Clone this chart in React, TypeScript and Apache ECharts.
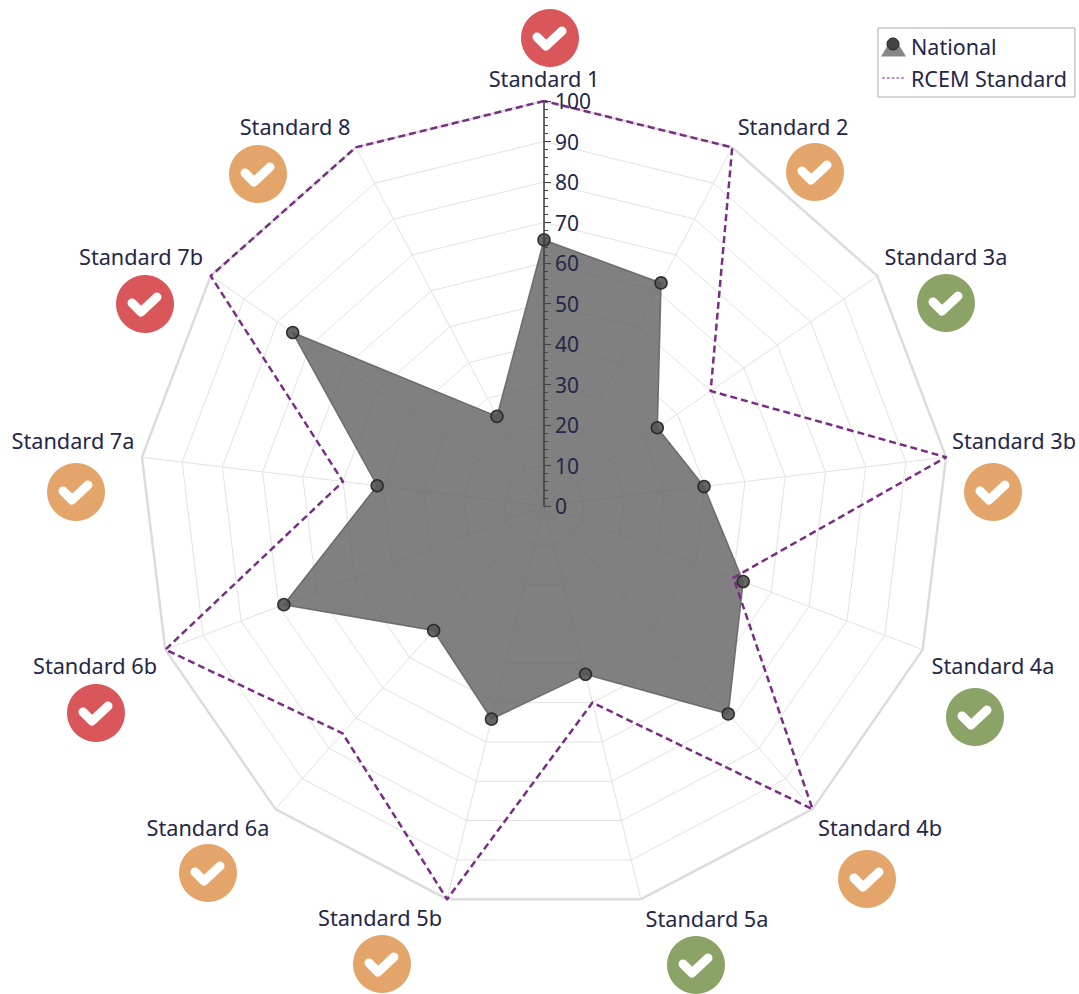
import React, { useEffect, useRef } from "react";
import * as echarts from "echarts";

const categories = ["Standard 1", "Standard 2", "Standard 3a", "Standard 3b", "Standard 4a", "Standard 4b", "Standard 5a", "Standard 5b", "Standard 6a", "Standard 6b", "Standard 7a", "Standard 7b", "Standard 8"];
const nationalValues = [65.7, 62.2, 34, 39.8, 52.6, 68.6, 42.8, 54.2, 41.1, 68.7, 41.5, 75.4, 25];
const rcemValues = [100, 100, 50, 100, 50, 100, 50, 100, 75, 100, 50, 100, 100];
const statuses = ["red", "orange", "green", "orange", "green", "orange", "green", "orange", "orange", "red", "orange", "red", "orange"];

const statusColors: Record<string, string> = { red: "#d9575b", orange: "#e4a56a", green: "#8ba366" };
const labelCentres = [[544, 78], [793, 126], [946, 256], [1014, 440], [993, 665], [880, 827], [707, 918], [380, 917], [208, 827], [95, 665], [73, 440], [141, 256], [295, 126]];
const iconCentres = [[550, 38], [815, 172], [946, 303], [993, 492], [975, 717], [867, 879], [696, 965], [382, 964], [208, 873], [96, 713], [76, 492], [145, 304], [258, 174]];

const FONT = "'Noto Sans', sans-serif";
const TEXT = "#25264a";
const CENTER = ["544px", "506px"];
const R = 405;

// The radar lays its indicators out counter-clockwise; the chart reads clockwise.
const clockwise = <T,>(list: T[]): T[] => [list[0], ...list.slice(1).reverse()];

export default function App() {
  const ref = useRef<HTMLDivElement>(null);
  useEffect(() => {
    document.body.style.margin = "0";
    document.body.style.overflow = "hidden";
    const chart = echarts.init(ref.current!, undefined, { renderer: "svg" });
    const indicator = clockwise(categories).map((name) => ({ name, min: 0, max: 100 }));
    const badges = categories.flatMap((name, i) => [
      {
        type: "text", z: 20, x: labelCentres[i][0], y: labelCentres[i][1],
        style: { text: name, fill: TEXT, font: `21.7px ${FONT}`, align: "center", verticalAlign: "middle" },
      },
      {
        type: "group", z: 20, x: iconCentres[i][0], y: iconCentres[i][1],
        children: [
          { type: "circle", shape: { cx: 0, cy: 0, r: 29 }, style: { fill: statusColors[statuses[i]] } },
          {
            type: "polyline", z: 21,
            shape: { points: [[-13, -1], [-4, 8], [12, -7]] },
            style: { stroke: "#fff", lineWidth: 9, lineCap: "round", lineJoin: "round", fill: "none" },
          },
        ],
      },
    ]);
    chart.setOption({
      animation: false,
      backgroundColor: "#fff",
      textStyle: { fontFamily: FONT },
      legend: {
        orient: "vertical", left: 878, top: 28,
        padding: [7, 8, 8, 3],
        itemGap: 10, itemWidth: 25, itemHeight: 22,
        backgroundColor: "#fff", borderColor: "#aaa", borderWidth: 1, borderRadius: 0,
        selectedMode: false, z: 15,
        textStyle: { fontSize: 21.5, color: TEXT, fontFamily: FONT },
        data: [
          { name: "National", icon: "path://M0 22L9 7L17 7L26 22Z M0 0L0 0 M26 0L26 0", itemStyle: { color: "#7a7a7a", borderWidth: 0 } },
          { name: "RCEM Standard", icon: "path://M1 10.6h3v.9h-3z M6 10.6h3v.9h-3z M11 10.6h3v.9h-3z M16 10.6h3v.9h-3z M21 10.6h3v.9h-3z M0 0L0 0 M26 22L26 22", itemStyle: { color: "#7b2d86", borderWidth: 0 } },
        ],
      },
      radar: [
        {
          center: CENTER, radius: R, startAngle: 90, splitNumber: 10, shape: "polygon",
          indicator,
          axisName: { show: false },
          axisLine: { lineStyle: { color: "#e2e2e2", width: 1 } },
          axisTick: { show: false }, axisLabel: { show: false },
          splitLine: { lineStyle: { color: "#e2e2e2", width: 1 } },
          splitArea: { show: false },
        },
        {
          center: CENTER, radius: R, startAngle: 90, splitNumber: 1, shape: "polygon",
          indicator,
          axisName: { show: false },
          axisLine: { show: false }, axisTick: { show: false }, axisLabel: { show: false },
          splitLine: { lineStyle: { color: "#dcdcdc", width: 2.5 } },
          splitArea: { show: false },
        },
      ],
      grid: { left: 344, width: 200, top: 101, height: 405, show: false },
      xAxis: { type: "value", show: false, min: 0, max: 1 },
      yAxis: {
        type: "value", position: "right", min: 0, max: 100, interval: 10, z: 12,
        axisLine: { show: true, onZero: false, lineStyle: { color: "#3c3c3c", width: 1.5 } },
        axisTick: { show: true, length: 7, lineStyle: { color: "#444" } },
        minorTick: { show: true, splitNumber: 5, length: 4, lineStyle: { color: "#444" } },
        splitLine: { show: false },
        axisLabel: { show: true, margin: 11, fontSize: 21, color: TEXT, fontFamily: FONT },
      },
      series: [
        {
          name: "National", type: "radar", radarIndex: 0, z: 4,
          symbol: "circle", symbolSize: 12,
          itemStyle: { color: "#555", borderColor: "#222", borderWidth: 1.5, opacity: 0.9 },
          lineStyle: { color: "#777", width: 1.5 },
          areaStyle: { color: "#606060", opacity: 0.8 },
          data: [{ name: "National", value: clockwise(nationalValues) }],
        },
        {
          name: "RCEM Standard", type: "radar", radarIndex: 0, z: 5,
          symbol: "none",
          itemStyle: { color: "#7b2d86" },
          lineStyle: { color: "#7b2d86", width: 2.5, type: [7, 4] },
          data: [{ name: "RCEM Standard", value: clockwise(rcemValues) }],
        },
      ],
      graphic: [
        ...badges,
        { type: "circle", z: 30, shape: { cx: 893, cy: 44, r: 6 }, style: { fill: "#444", stroke: "#222", lineWidth: 1 } },
      ],
    });
    return () => chart.dispose();
  }, []);
  return <div ref={ref} style={{ position: "absolute", left: 0, top: 0, width: 1079, height: 994 }} />;
}
